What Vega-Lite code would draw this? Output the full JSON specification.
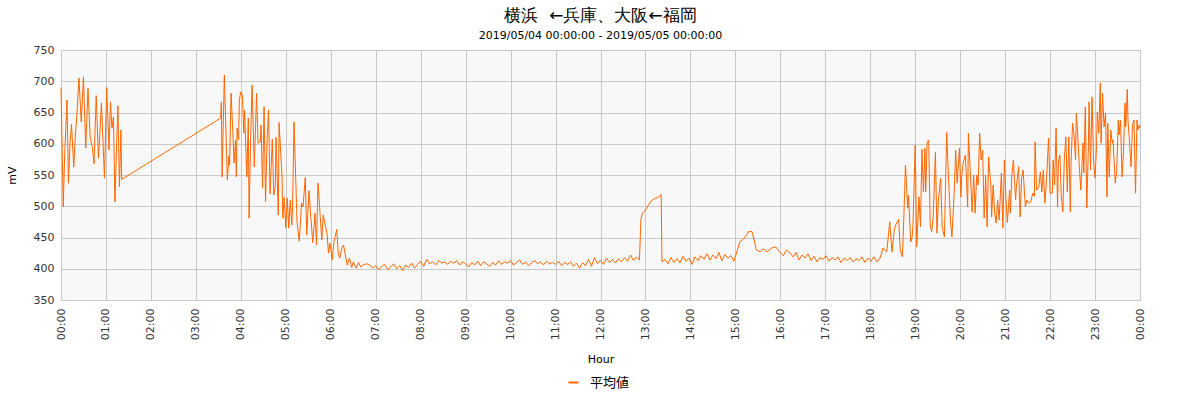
{
  "$schema": "https://vega.github.io/schema/vega-lite/v6.json",
  "width": 1079,
  "height": 250,
  "autosize": "none",
  "padding": {"left": 61, "top": 50, "right": 60, "bottom": 100},
  "background": "white",
  "title": {
    "text": "横浜\u00a0 ←兵庫、大阪←福岡",
    "subtitle": "2019/05/04 00:00:00 - 2019/05/05 00:00:00",
    "fontSize": 17,
    "fontWeight": "normal",
    "subtitleFontSize": 11,
    "subtitlePadding": 5,
    "anchor": "middle",
    "offset": 2
  },
  "config": {
    "font": "DejaVu Sans",
    "view": {"fill": "#f8f8f8", "stroke": "#aaaaaa"},
    "axis": {
      "labelFontSize": 11,
      "labelColor": "#333333",
      "titleFontSize": 11,
      "titleFontWeight": "normal",
      "gridColor": "#c8c8c8",
      "domain": false,
      "ticks": false
    }
  },
  "data": {
    "values": [
      {"t": "2019-05-04T00:00", "v": 690},
      {"t": "2019-05-04T00:03", "v": 499},
      {"t": "2019-05-04T00:05", "v": 585},
      {"t": "2019-05-04T00:08", "v": 670},
      {"t": "2019-05-04T00:10", "v": 537},
      {"t": "2019-05-04T00:12", "v": 600},
      {"t": "2019-05-04T00:14", "v": 631},
      {"t": "2019-05-04T00:17", "v": 563},
      {"t": "2019-05-04T00:19", "v": 610},
      {"t": "2019-05-04T00:21", "v": 643},
      {"t": "2019-05-04T00:24", "v": 705},
      {"t": "2019-05-04T00:27", "v": 635},
      {"t": "2019-05-04T00:30", "v": 707},
      {"t": "2019-05-04T00:33", "v": 593},
      {"t": "2019-05-04T00:36", "v": 689},
      {"t": "2019-05-04T00:39", "v": 609},
      {"t": "2019-05-04T00:42", "v": 593},
      {"t": "2019-05-04T00:44", "v": 568},
      {"t": "2019-05-04T00:47", "v": 677},
      {"t": "2019-05-04T00:50", "v": 577},
      {"t": "2019-05-04T00:52", "v": 620},
      {"t": "2019-05-04T00:54", "v": 665},
      {"t": "2019-05-04T00:58", "v": 545},
      {"t": "2019-05-04T01:01", "v": 690},
      {"t": "2019-05-04T01:04", "v": 590},
      {"t": "2019-05-04T01:06", "v": 667},
      {"t": "2019-05-04T01:08", "v": 625},
      {"t": "2019-05-04T01:10", "v": 643},
      {"t": "2019-05-04T01:12", "v": 507},
      {"t": "2019-05-04T01:14", "v": 590},
      {"t": "2019-05-04T01:16", "v": 661},
      {"t": "2019-05-04T01:18", "v": 531},
      {"t": "2019-05-04T01:20", "v": 622},
      {"t": "2019-05-04T01:21", "v": 543},
      {"t": "2019-05-04T03:33", "v": 641},
      {"t": "2019-05-04T03:34", "v": 667},
      {"t": "2019-05-04T03:35", "v": 547},
      {"t": "2019-05-04T03:38", "v": 710},
      {"t": "2019-05-04T03:42", "v": 542},
      {"t": "2019-05-04T03:44", "v": 580},
      {"t": "2019-05-04T03:45", "v": 566},
      {"t": "2019-05-04T03:47", "v": 681},
      {"t": "2019-05-04T03:49", "v": 627},
      {"t": "2019-05-04T03:51", "v": 569},
      {"t": "2019-05-04T03:53", "v": 606},
      {"t": "2019-05-04T03:54", "v": 547},
      {"t": "2019-05-04T03:55", "v": 625},
      {"t": "2019-05-04T03:57", "v": 606},
      {"t": "2019-05-04T03:58", "v": 670},
      {"t": "2019-05-04T04:00", "v": 683},
      {"t": "2019-05-04T04:02", "v": 678},
      {"t": "2019-05-04T04:04", "v": 617},
      {"t": "2019-05-04T04:05", "v": 654},
      {"t": "2019-05-04T04:08", "v": 547},
      {"t": "2019-05-04T04:10", "v": 641},
      {"t": "2019-05-04T04:11", "v": 481},
      {"t": "2019-05-04T04:13", "v": 603},
      {"t": "2019-05-04T04:15", "v": 694},
      {"t": "2019-05-04T04:18", "v": 563},
      {"t": "2019-05-04T04:21", "v": 681},
      {"t": "2019-05-04T04:23", "v": 601},
      {"t": "2019-05-04T04:26", "v": 603},
      {"t": "2019-05-04T04:27", "v": 630},
      {"t": "2019-05-04T04:29", "v": 529},
      {"t": "2019-05-04T04:31", "v": 659},
      {"t": "2019-05-04T04:33", "v": 507},
      {"t": "2019-05-04T04:35", "v": 606},
      {"t": "2019-05-04T04:37", "v": 654},
      {"t": "2019-05-04T04:39", "v": 520},
      {"t": "2019-05-04T04:42", "v": 607},
      {"t": "2019-05-04T04:44", "v": 518},
      {"t": "2019-05-04T04:46", "v": 531},
      {"t": "2019-05-04T04:47", "v": 610},
      {"t": "2019-05-04T04:50", "v": 486},
      {"t": "2019-05-04T04:51", "v": 634},
      {"t": "2019-05-04T04:55", "v": 547},
      {"t": "2019-05-04T04:56", "v": 481},
      {"t": "2019-05-04T04:58", "v": 514},
      {"t": "2019-05-04T05:00", "v": 465},
      {"t": "2019-05-04T05:02", "v": 513},
      {"t": "2019-05-04T05:04", "v": 465},
      {"t": "2019-05-04T05:06", "v": 510},
      {"t": "2019-05-04T05:08", "v": 470},
      {"t": "2019-05-04T05:09", "v": 499},
      {"t": "2019-05-04T05:11", "v": 635},
      {"t": "2019-05-04T05:15", "v": 475},
      {"t": "2019-05-04T05:18", "v": 444},
      {"t": "2019-05-04T05:21", "v": 505},
      {"t": "2019-05-04T05:23", "v": 499},
      {"t": "2019-05-04T05:26", "v": 546},
      {"t": "2019-05-04T05:28", "v": 454},
      {"t": "2019-05-04T05:31", "v": 525},
      {"t": "2019-05-04T05:33", "v": 489},
      {"t": "2019-05-04T05:36", "v": 442},
      {"t": "2019-05-04T05:39", "v": 489},
      {"t": "2019-05-04T05:41", "v": 438},
      {"t": "2019-05-04T05:43", "v": 537},
      {"t": "2019-05-04T05:46", "v": 483},
      {"t": "2019-05-04T05:48", "v": 446},
      {"t": "2019-05-04T05:50", "v": 486},
      {"t": "2019-05-04T05:52", "v": 473},
      {"t": "2019-05-04T05:55", "v": 457},
      {"t": "2019-05-04T05:57", "v": 425},
      {"t": "2019-05-04T05:59", "v": 441},
      {"t": "2019-05-04T06:02", "v": 414},
      {"t": "2019-05-04T06:04", "v": 441},
      {"t": "2019-05-04T06:08", "v": 463},
      {"t": "2019-05-04T06:10", "v": 425},
      {"t": "2019-05-04T06:12", "v": 417},
      {"t": "2019-05-04T06:15", "v": 435},
      {"t": "2019-05-04T06:17", "v": 438},
      {"t": "2019-05-04T06:19", "v": 425},
      {"t": "2019-05-04T06:22", "v": 406},
      {"t": "2019-05-04T06:25", "v": 417},
      {"t": "2019-05-04T06:28", "v": 402},
      {"t": "2019-05-04T06:30", "v": 411},
      {"t": "2019-05-04T06:34", "v": 401},
      {"t": "2019-05-04T06:37", "v": 410},
      {"t": "2019-05-04T06:40", "v": 403},
      {"t": "2019-05-04T06:43", "v": 406},
      {"t": "2019-05-04T06:48", "v": 408},
      {"t": "2019-05-04T06:52", "v": 406},
      {"t": "2019-05-04T06:56", "v": 401},
      {"t": "2019-05-04T07:00", "v": 405},
      {"t": "2019-05-04T07:04", "v": 398},
      {"t": "2019-05-04T07:08", "v": 404},
      {"t": "2019-05-04T07:12", "v": 407},
      {"t": "2019-05-04T07:16", "v": 399},
      {"t": "2019-05-04T07:20", "v": 403},
      {"t": "2019-05-04T07:24", "v": 408},
      {"t": "2019-05-04T07:28", "v": 400},
      {"t": "2019-05-04T07:32", "v": 405},
      {"t": "2019-05-04T07:36", "v": 397},
      {"t": "2019-05-04T07:40", "v": 406},
      {"t": "2019-05-04T07:44", "v": 402},
      {"t": "2019-05-04T07:48", "v": 409},
      {"t": "2019-05-04T07:52", "v": 401},
      {"t": "2019-05-04T07:56", "v": 407},
      {"t": "2019-05-04T08:00", "v": 412},
      {"t": "2019-05-04T08:04", "v": 404},
      {"t": "2019-05-04T08:08", "v": 415},
      {"t": "2019-05-04T08:12", "v": 408},
      {"t": "2019-05-04T08:16", "v": 411},
      {"t": "2019-05-04T08:20", "v": 406},
      {"t": "2019-05-04T08:24", "v": 413},
      {"t": "2019-05-04T08:28", "v": 409},
      {"t": "2019-05-04T08:32", "v": 411},
      {"t": "2019-05-04T08:36", "v": 407},
      {"t": "2019-05-04T08:40", "v": 412},
      {"t": "2019-05-04T08:44", "v": 409},
      {"t": "2019-05-04T08:48", "v": 413},
      {"t": "2019-05-04T08:52", "v": 406},
      {"t": "2019-05-04T08:56", "v": 411},
      {"t": "2019-05-04T09:00", "v": 408},
      {"t": "2019-05-04T09:04", "v": 403},
      {"t": "2019-05-04T09:08", "v": 410},
      {"t": "2019-05-04T09:12", "v": 406},
      {"t": "2019-05-04T09:16", "v": 412},
      {"t": "2019-05-04T09:20", "v": 405},
      {"t": "2019-05-04T09:24", "v": 411},
      {"t": "2019-05-04T09:28", "v": 408},
      {"t": "2019-05-04T09:32", "v": 404},
      {"t": "2019-05-04T09:36", "v": 410},
      {"t": "2019-05-04T09:40", "v": 406},
      {"t": "2019-05-04T09:44", "v": 413},
      {"t": "2019-05-04T09:48", "v": 407},
      {"t": "2019-05-04T09:52", "v": 411},
      {"t": "2019-05-04T09:56", "v": 409},
      {"t": "2019-05-04T10:00", "v": 413},
      {"t": "2019-05-04T10:04", "v": 406},
      {"t": "2019-05-04T10:08", "v": 410},
      {"t": "2019-05-04T10:12", "v": 414},
      {"t": "2019-05-04T10:16", "v": 407},
      {"t": "2019-05-04T10:20", "v": 411},
      {"t": "2019-05-04T10:24", "v": 405},
      {"t": "2019-05-04T10:28", "v": 410},
      {"t": "2019-05-04T10:32", "v": 413},
      {"t": "2019-05-04T10:36", "v": 408},
      {"t": "2019-05-04T10:40", "v": 411},
      {"t": "2019-05-04T10:44", "v": 406},
      {"t": "2019-05-04T10:48", "v": 412},
      {"t": "2019-05-04T10:52", "v": 408},
      {"t": "2019-05-04T10:56", "v": 410},
      {"t": "2019-05-04T11:00", "v": 407},
      {"t": "2019-05-04T11:04", "v": 412},
      {"t": "2019-05-04T11:08", "v": 405},
      {"t": "2019-05-04T11:12", "v": 410},
      {"t": "2019-05-04T11:16", "v": 407},
      {"t": "2019-05-04T11:20", "v": 411},
      {"t": "2019-05-04T11:24", "v": 404},
      {"t": "2019-05-04T11:28", "v": 409},
      {"t": "2019-05-04T11:32", "v": 401},
      {"t": "2019-05-04T11:36", "v": 410},
      {"t": "2019-05-04T11:40", "v": 405},
      {"t": "2019-05-04T11:44", "v": 415},
      {"t": "2019-05-04T11:48", "v": 404},
      {"t": "2019-05-04T11:52", "v": 418},
      {"t": "2019-05-04T11:56", "v": 408},
      {"t": "2019-05-04T12:00", "v": 414},
      {"t": "2019-05-04T12:04", "v": 407},
      {"t": "2019-05-04T12:08", "v": 417},
      {"t": "2019-05-04T12:12", "v": 410},
      {"t": "2019-05-04T12:16", "v": 415},
      {"t": "2019-05-04T12:20", "v": 409},
      {"t": "2019-05-04T12:24", "v": 416},
      {"t": "2019-05-04T12:28", "v": 411},
      {"t": "2019-05-04T12:32", "v": 418},
      {"t": "2019-05-04T12:36", "v": 412},
      {"t": "2019-05-04T12:40", "v": 422},
      {"t": "2019-05-04T12:44", "v": 413},
      {"t": "2019-05-04T12:48", "v": 419},
      {"t": "2019-05-04T12:52", "v": 414},
      {"t": "2019-05-04T12:54", "v": 480},
      {"t": "2019-05-04T12:56", "v": 489},
      {"t": "2019-05-04T13:00", "v": 494},
      {"t": "2019-05-04T13:04", "v": 502},
      {"t": "2019-05-04T13:08", "v": 509},
      {"t": "2019-05-04T13:12", "v": 512},
      {"t": "2019-05-04T13:16", "v": 514},
      {"t": "2019-05-04T13:19", "v": 516},
      {"t": "2019-05-04T13:21", "v": 519},
      {"t": "2019-05-04T13:22", "v": 411},
      {"t": "2019-05-04T13:26", "v": 415},
      {"t": "2019-05-04T13:30", "v": 408},
      {"t": "2019-05-04T13:34", "v": 418},
      {"t": "2019-05-04T13:38", "v": 410},
      {"t": "2019-05-04T13:42", "v": 416},
      {"t": "2019-05-04T13:46", "v": 409},
      {"t": "2019-05-04T13:50", "v": 420},
      {"t": "2019-05-04T13:54", "v": 412},
      {"t": "2019-05-04T13:58", "v": 417},
      {"t": "2019-05-04T14:02", "v": 407},
      {"t": "2019-05-04T14:06", "v": 419},
      {"t": "2019-05-04T14:10", "v": 413},
      {"t": "2019-05-04T14:14", "v": 421},
      {"t": "2019-05-04T14:18", "v": 415},
      {"t": "2019-05-04T14:22", "v": 424},
      {"t": "2019-05-04T14:26", "v": 414},
      {"t": "2019-05-04T14:30", "v": 422},
      {"t": "2019-05-04T14:34", "v": 416},
      {"t": "2019-05-04T14:38", "v": 426},
      {"t": "2019-05-04T14:42", "v": 413},
      {"t": "2019-05-04T14:46", "v": 423},
      {"t": "2019-05-04T14:50", "v": 417},
      {"t": "2019-05-04T14:54", "v": 421},
      {"t": "2019-05-04T14:58", "v": 412},
      {"t": "2019-05-04T15:02", "v": 427},
      {"t": "2019-05-04T15:06", "v": 443},
      {"t": "2019-05-04T15:11", "v": 448},
      {"t": "2019-05-04T15:15", "v": 454},
      {"t": "2019-05-04T15:17", "v": 459},
      {"t": "2019-05-04T15:22", "v": 460},
      {"t": "2019-05-04T15:24", "v": 451},
      {"t": "2019-05-04T15:28", "v": 430},
      {"t": "2019-05-04T15:33", "v": 427},
      {"t": "2019-05-04T15:37", "v": 432},
      {"t": "2019-05-04T15:42", "v": 427},
      {"t": "2019-05-04T15:48", "v": 433},
      {"t": "2019-05-04T15:54", "v": 435},
      {"t": "2019-05-04T15:59", "v": 427},
      {"t": "2019-05-04T16:04", "v": 421},
      {"t": "2019-05-04T16:08", "v": 430},
      {"t": "2019-05-04T16:13", "v": 425},
      {"t": "2019-05-04T16:17", "v": 419},
      {"t": "2019-05-04T16:21", "v": 426},
      {"t": "2019-05-04T16:25", "v": 414},
      {"t": "2019-05-04T16:29", "v": 422},
      {"t": "2019-05-04T16:33", "v": 417},
      {"t": "2019-05-04T16:37", "v": 424},
      {"t": "2019-05-04T16:41", "v": 413},
      {"t": "2019-05-04T16:45", "v": 420},
      {"t": "2019-05-04T16:49", "v": 411},
      {"t": "2019-05-04T16:53", "v": 418},
      {"t": "2019-05-04T16:57", "v": 415},
      {"t": "2019-05-04T17:01", "v": 421},
      {"t": "2019-05-04T17:05", "v": 412},
      {"t": "2019-05-04T17:09", "v": 418},
      {"t": "2019-05-04T17:13", "v": 414},
      {"t": "2019-05-04T17:17", "v": 419},
      {"t": "2019-05-04T17:21", "v": 410},
      {"t": "2019-05-04T17:25", "v": 417},
      {"t": "2019-05-04T17:29", "v": 413},
      {"t": "2019-05-04T17:33", "v": 418},
      {"t": "2019-05-04T17:37", "v": 411},
      {"t": "2019-05-04T17:41", "v": 416},
      {"t": "2019-05-04T17:45", "v": 413},
      {"t": "2019-05-04T17:49", "v": 419},
      {"t": "2019-05-04T17:53", "v": 410},
      {"t": "2019-05-04T17:57", "v": 417},
      {"t": "2019-05-04T18:01", "v": 412},
      {"t": "2019-05-04T18:05", "v": 419},
      {"t": "2019-05-04T18:09", "v": 411},
      {"t": "2019-05-04T18:13", "v": 417},
      {"t": "2019-05-04T18:17", "v": 433},
      {"t": "2019-05-04T18:22", "v": 427},
      {"t": "2019-05-04T18:26", "v": 475},
      {"t": "2019-05-04T18:29", "v": 427},
      {"t": "2019-05-04T18:32", "v": 462},
      {"t": "2019-05-04T18:34", "v": 470},
      {"t": "2019-05-04T18:38", "v": 479},
      {"t": "2019-05-04T18:40", "v": 430},
      {"t": "2019-05-04T18:43", "v": 419},
      {"t": "2019-05-04T18:45", "v": 489},
      {"t": "2019-05-04T18:47", "v": 566},
      {"t": "2019-05-04T18:50", "v": 497},
      {"t": "2019-05-04T18:51", "v": 518},
      {"t": "2019-05-04T18:54", "v": 443},
      {"t": "2019-05-04T18:56", "v": 451},
      {"t": "2019-05-04T18:57", "v": 470},
      {"t": "2019-05-04T19:00", "v": 598},
      {"t": "2019-05-04T19:02", "v": 435},
      {"t": "2019-05-04T19:05", "v": 515},
      {"t": "2019-05-04T19:07", "v": 467},
      {"t": "2019-05-04T19:09", "v": 591},
      {"t": "2019-05-04T19:11", "v": 523},
      {"t": "2019-05-04T19:13", "v": 593},
      {"t": "2019-05-04T19:14", "v": 523},
      {"t": "2019-05-04T19:16", "v": 603},
      {"t": "2019-05-04T19:18", "v": 606},
      {"t": "2019-05-04T19:20", "v": 470},
      {"t": "2019-05-04T19:22", "v": 459},
      {"t": "2019-05-04T19:24", "v": 483},
      {"t": "2019-05-04T19:27", "v": 586},
      {"t": "2019-05-04T19:29", "v": 457},
      {"t": "2019-05-04T19:31", "v": 510},
      {"t": "2019-05-04T19:34", "v": 545},
      {"t": "2019-05-04T19:36", "v": 467},
      {"t": "2019-05-04T19:39", "v": 451},
      {"t": "2019-05-04T19:42", "v": 618},
      {"t": "2019-05-04T19:44", "v": 558},
      {"t": "2019-05-04T19:47", "v": 478},
      {"t": "2019-05-04T19:49", "v": 451},
      {"t": "2019-05-04T19:52", "v": 521},
      {"t": "2019-05-04T19:54", "v": 590},
      {"t": "2019-05-04T19:56", "v": 537},
      {"t": "2019-05-04T19:59", "v": 593},
      {"t": "2019-05-04T20:01", "v": 515},
      {"t": "2019-05-04T20:02", "v": 547},
      {"t": "2019-05-04T20:04", "v": 569},
      {"t": "2019-05-04T20:07", "v": 582},
      {"t": "2019-05-04T20:10", "v": 499},
      {"t": "2019-05-04T20:11", "v": 617},
      {"t": "2019-05-04T20:13", "v": 569},
      {"t": "2019-05-04T20:16", "v": 491},
      {"t": "2019-05-04T20:18", "v": 550},
      {"t": "2019-05-04T20:20", "v": 489},
      {"t": "2019-05-04T20:22", "v": 550},
      {"t": "2019-05-04T20:24", "v": 534},
      {"t": "2019-05-04T20:26", "v": 617},
      {"t": "2019-05-04T20:28", "v": 574},
      {"t": "2019-05-04T20:30", "v": 590},
      {"t": "2019-05-04T20:32", "v": 481},
      {"t": "2019-05-04T20:34", "v": 550},
      {"t": "2019-05-04T20:36", "v": 467},
      {"t": "2019-05-04T20:38", "v": 579},
      {"t": "2019-05-04T20:41", "v": 531},
      {"t": "2019-05-04T20:42", "v": 483},
      {"t": "2019-05-04T20:44", "v": 534},
      {"t": "2019-05-04T20:46", "v": 489},
      {"t": "2019-05-04T20:48", "v": 473},
      {"t": "2019-05-04T20:50", "v": 510},
      {"t": "2019-05-04T20:52", "v": 478},
      {"t": "2019-05-04T20:55", "v": 553},
      {"t": "2019-05-04T20:57", "v": 465},
      {"t": "2019-05-04T20:59", "v": 574},
      {"t": "2019-05-04T21:01", "v": 515},
      {"t": "2019-05-04T21:03", "v": 474},
      {"t": "2019-05-04T21:06", "v": 526},
      {"t": "2019-05-04T21:07", "v": 489},
      {"t": "2019-05-04T21:09", "v": 550},
      {"t": "2019-05-04T21:11", "v": 574},
      {"t": "2019-05-04T21:14", "v": 510},
      {"t": "2019-05-04T21:15", "v": 531},
      {"t": "2019-05-04T21:18", "v": 564},
      {"t": "2019-05-04T21:20", "v": 483},
      {"t": "2019-05-04T21:22", "v": 545},
      {"t": "2019-05-04T21:24", "v": 558},
      {"t": "2019-05-04T21:27", "v": 499},
      {"t": "2019-05-04T21:29", "v": 510},
      {"t": "2019-05-04T21:31", "v": 505},
      {"t": "2019-05-04T21:34", "v": 507},
      {"t": "2019-05-04T21:37", "v": 521},
      {"t": "2019-05-04T21:39", "v": 516},
      {"t": "2019-05-04T21:40", "v": 603},
      {"t": "2019-05-04T21:42", "v": 526},
      {"t": "2019-05-04T21:45", "v": 531},
      {"t": "2019-05-04T21:47", "v": 555},
      {"t": "2019-05-04T21:49", "v": 523},
      {"t": "2019-05-04T21:51", "v": 558},
      {"t": "2019-05-04T21:53", "v": 505},
      {"t": "2019-05-04T21:55", "v": 537},
      {"t": "2019-05-04T21:56", "v": 561},
      {"t": "2019-05-04T21:58", "v": 609},
      {"t": "2019-05-04T22:00", "v": 521},
      {"t": "2019-05-04T22:03", "v": 521},
      {"t": "2019-05-04T22:04", "v": 574},
      {"t": "2019-05-04T22:06", "v": 534},
      {"t": "2019-05-04T22:08", "v": 625},
      {"t": "2019-05-04T22:10", "v": 499},
      {"t": "2019-05-04T22:11", "v": 569},
      {"t": "2019-05-04T22:13", "v": 582},
      {"t": "2019-05-04T22:15", "v": 515},
      {"t": "2019-05-04T22:17", "v": 491},
      {"t": "2019-05-04T22:19", "v": 574},
      {"t": "2019-05-04T22:21", "v": 611},
      {"t": "2019-05-04T22:23", "v": 523},
      {"t": "2019-05-04T22:25", "v": 611},
      {"t": "2019-05-04T22:27", "v": 491},
      {"t": "2019-05-04T22:28", "v": 569},
      {"t": "2019-05-04T22:30", "v": 633},
      {"t": "2019-05-04T22:32", "v": 614},
      {"t": "2019-05-04T22:34", "v": 574},
      {"t": "2019-05-04T22:35", "v": 649},
      {"t": "2019-05-04T22:37", "v": 611},
      {"t": "2019-05-04T22:39", "v": 563},
      {"t": "2019-05-04T22:41", "v": 526},
      {"t": "2019-05-04T22:44", "v": 601},
      {"t": "2019-05-04T22:45", "v": 553},
      {"t": "2019-05-04T22:47", "v": 659},
      {"t": "2019-05-04T22:49", "v": 497},
      {"t": "2019-05-04T22:51", "v": 590},
      {"t": "2019-05-04T22:52", "v": 667},
      {"t": "2019-05-04T22:54", "v": 558},
      {"t": "2019-05-04T22:56", "v": 675},
      {"t": "2019-05-04T22:58", "v": 574},
      {"t": "2019-05-04T23:00", "v": 545},
      {"t": "2019-05-04T23:02", "v": 595},
      {"t": "2019-05-04T23:03", "v": 651},
      {"t": "2019-05-04T23:05", "v": 617},
      {"t": "2019-05-04T23:07", "v": 697},
      {"t": "2019-05-04T23:08", "v": 601},
      {"t": "2019-05-04T23:10", "v": 681},
      {"t": "2019-05-04T23:12", "v": 627},
      {"t": "2019-05-04T23:14", "v": 649},
      {"t": "2019-05-04T23:16", "v": 515},
      {"t": "2019-05-04T23:17", "v": 633},
      {"t": "2019-05-04T23:19", "v": 547},
      {"t": "2019-05-04T23:21", "v": 622},
      {"t": "2019-05-04T23:23", "v": 601},
      {"t": "2019-05-04T23:24", "v": 606},
      {"t": "2019-05-04T23:27", "v": 537},
      {"t": "2019-05-04T23:29", "v": 558},
      {"t": "2019-05-04T23:31", "v": 638},
      {"t": "2019-05-04T23:32", "v": 614},
      {"t": "2019-05-04T23:34", "v": 638},
      {"t": "2019-05-04T23:36", "v": 547},
      {"t": "2019-05-04T23:38", "v": 590},
      {"t": "2019-05-04T23:40", "v": 665},
      {"t": "2019-05-04T23:41", "v": 627},
      {"t": "2019-05-04T23:43", "v": 687},
      {"t": "2019-05-04T23:44", "v": 638},
      {"t": "2019-05-04T23:46", "v": 603},
      {"t": "2019-05-04T23:48", "v": 563},
      {"t": "2019-05-04T23:50", "v": 630},
      {"t": "2019-05-04T23:52", "v": 638},
      {"t": "2019-05-04T23:54", "v": 521},
      {"t": "2019-05-04T23:56", "v": 638},
      {"t": "2019-05-04T23:57", "v": 622},
      {"t": "2019-05-04T23:59", "v": 630},
      {"t": "2019-05-05T00:00", "v": 625}
    ]
  },
  "mark": {"type": "line", "strokeWidth": 1, "color": "#ff6600"},
  "encoding": {
    "x": {
      "field": "t",
      "type": "temporal",
      "scale": {
        "domain": [
          {"year": 2019, "month": 5, "date": 4},
          {"year": 2019, "month": 5, "date": 5}
        ]
      },
      "axis": {
        "title": "Hour",
        "format": "%H:%M",
        "tickCount": 24,
        "labelAngle": -90,
        "labelAlign": "right",
        "labelBaseline": "middle",
        "labelPadding": 8,
        "labelFlush": false,
        "labelOverlap": false,
        "titlePadding": 14
      }
    },
    "y": {
      "field": "v",
      "type": "quantitative",
      "scale": {"domain": [350, 750], "nice": false, "zero": false},
      "axis": {
        "title": "mV",
        "values": [350, 400, 450, 500, 550, 600, 650, 700, 750],
        "labelPadding": 7,
        "titlePadding": 16
      }
    },
    "color": {
      "datum": "平均値",
      "scale": {"range": ["#ff6600"]},
      "legend": {
        "title": null,
        "orient": "none",
        "legendX": 506,
        "legendY": 326,
        "symbolType": "stroke",
        "symbolStrokeWidth": 2,
        "labelOffset": 10,
        "labelFontSize": 13,
        "labelFont": "Noto Sans CJK JP"
      }
    }
  }
}
